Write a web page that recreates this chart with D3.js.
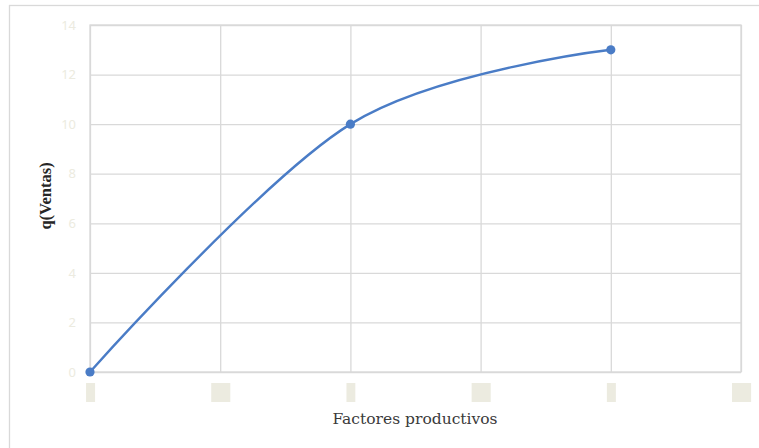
<!DOCTYPE html>
<html>
<head>
<meta charset="utf-8">
<script src="https://cdn.jsdelivr.net/npm/d3@7"></script>
<style>
  html, body { margin: 0; padding: 0; background: #fff; }
  svg { display: block; }
</style>
</head>
<body>
<svg id="chart" width="759" height="448"></svg>
<script>
// Production curve: sales as a function of productive factors
const factores = [0, 1, 2];
const ventas = [0, 10, 13];
const xTicks = [0, 0.5, 1, 1.5, 2, 2.5];
const yTicks = [0, 2, 4, 6, 8, 10, 12, 14];

const svg = d3.select("#chart");
const margin = { left: 90, top: 25, right: 741, bottom: 372 };

const x = d3.scaleLinear().domain([0, 2.5]).range([margin.left, margin.right]);
const y = d3.scaleLinear().domain([0, 14]).range([margin.bottom, margin.top]);

const gridColor = "#d9d9d9";
const faint = "#ecebe0";

// outer chart frame
svg.append("rect")
  .attr("x", 9.5).attr("y", 5.5)
  .attr("width", 760).attr("height", 450)
  .attr("fill", "none").attr("stroke", gridColor).attr("stroke-width", 1.3);

// horizontal gridlines + y labels
const yAxis = d3.axisLeft(y).tickValues(yTicks)
  .tickSize(-(margin.right - margin.left)).tickPadding(14)
  .tickFormat(d3.format("d"));
const gy = svg.append("g").attr("transform", `translate(${margin.left},0)`).call(yAxis);
gy.select(".domain").remove();
gy.selectAll(".tick line").attr("stroke", gridColor).attr("stroke-width", 1.3);
gy.selectAll(".tick text")
  .attr("fill", faint)
  .style("font-family", "'Noto Sans', sans-serif")
  .style("font-size", "13px");

// vertical gridlines + x labels (shown on a highlight box)
const xAxis = d3.axisBottom(x).tickValues(xTicks)
  .tickSize(-(margin.bottom - margin.top)).tickPadding(16)
  .tickFormat(d => String(d));
const gx = svg.append("g").attr("transform", `translate(0,${margin.bottom})`).call(xAxis);
gx.select(".domain").remove();
gx.selectAll(".tick line").attr("stroke", gridColor).attr("stroke-width", 1.3);
gx.selectAll(".tick text")
  .attr("fill", faint)
  .style("font-family", "'Noto Sans', sans-serif")
  .style("font-size", "12px");
gx.selectAll(".tick").each(function () {
  const t = d3.select(this);
  const bb = t.select("text").node().getBBox();
  t.insert("rect", "text")
    .attr("x", bb.x - 1).attr("y", 11)
    .attr("width", bb.width + 2).attr("height", 19)
    .attr("fill", faint);
});

// plot area border
svg.append("rect")
  .attr("x", margin.left).attr("y", margin.top)
  .attr("width", margin.right - margin.left).attr("height", margin.bottom - margin.top)
  .attr("fill", "none").attr("stroke", gridColor).attr("stroke-width", 1.3);

// smoothed series line
const pts = factores.map((f, i) => [f, ventas[i]]);
const line = d3.line()
  .x(d => x(d[0])).y(d => y(d[1]))
  .curve(d3.curveCardinal.tension(0));
const blue = "#4a7cc6";
svg.append("path")
  .datum(pts)
  .attr("d", line)
  .attr("fill", "none").attr("stroke", blue).attr("stroke-width", 2.4);

svg.selectAll("circle.pt").data(pts).join("circle")
  .attr("class", "pt")
  .attr("cx", d => x(d[0])).attr("cy", d => y(d[1]))
  .attr("r", 4.6).attr("fill", blue);

// axis titles
svg.append("text")
  .attr("x", 415).attr("y", 424)
  .attr("text-anchor", "middle")
  .attr("fill", "#3a3a3a")
  .style("font-family", "'DejaVu Serif', 'Liberation Serif', serif")
  .style("font-size", "15.5px")
  .text("Factores productivos");

svg.append("text")
  .attr("transform", "translate(51,196) rotate(-90)")
  .attr("text-anchor", "middle")
  .attr("fill", "#262626")
  .style("font-family", "'Liberation Serif', serif")
  .style("font-size", "16.5px")
  .style("font-weight", "bold")
  .text("q(Ventas)");
</script>
</body>
</html>
